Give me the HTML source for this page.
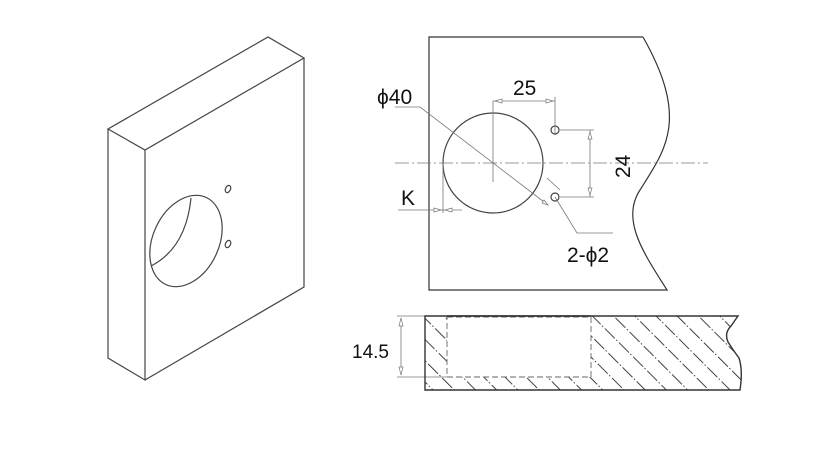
<!DOCTYPE html>
<html><head><style>body{margin:0;background:#fff}svg{display:block}text{font-family:"Liberation Sans",sans-serif;fill:#111}</style></head>
<body>
<svg width="823" height="466" viewBox="0 0 823 466" xmlns="http://www.w3.org/2000/svg">
<defs>
<pattern id="h" width="15" height="20" patternUnits="userSpaceOnUse" patternTransform="rotate(-45)">
<line x1="0" y1="0" x2="0" y2="20" stroke="#222" stroke-width="1.7" stroke-dasharray="14 2 1.5 2.5"/>
</pattern>
<clipPath id="sec"><path d="M425 316 H738 L731 326 Q724 333 728 342 Q733 350 739 358 Q743 370 740 390 H425 Z"/></clipPath>
</defs>
<g fill="none" stroke="#444" stroke-width="1.2">
<path d="M108 129 L268 37 L304 58 L145 150 Z"/>
<path d="M108 129 V358 L145 380 V150"/>
<path d="M145 380 L304 287 V58"/>
<ellipse cx="186" cy="241" rx="33" ry="48" transform="rotate(25 186 241)"/>
<path d="M191 198 Q186 248 151 266"/>
<ellipse cx="228" cy="189" rx="2.5" ry="3.8" transform="rotate(25 228 189)"/>
<ellipse cx="228" cy="244" rx="2.5" ry="3.8" transform="rotate(25 228 244)"/>
<path d="M643 37 H429 V290 H667 C645 255 620 220 640 190 C665 150 690 120 643 37" stroke="#333"/>
<circle cx="493" cy="163" r="50"/>
<circle cx="555" cy="130" r="4"/>
<circle cx="555" cy="197" r="4"/>
</g>
<g fill="none" stroke="#777" stroke-width="0.8">
<line x1="395" y1="163" x2="708" y2="163" stroke-dasharray="14 3 2 3"/>
<line x1="493" y1="101" x2="493" y2="182"/>
<line x1="493" y1="101" x2="555" y2="101"/>
<line x1="555" y1="97" x2="555" y2="135"/>
<line x1="560" y1="130" x2="594" y2="130"/>
<line x1="560" y1="197" x2="594" y2="197"/>
<line x1="590" y1="130" x2="590" y2="197"/>
<path d="M395 107 H420 L548 205"/>
<line x1="398" y1="210" x2="462" y2="210"/>
<line x1="443" y1="163" x2="443" y2="213"/>
<path d="M547 178 L560 190 M555 197 L577 233 H613"/>
<line x1="397" y1="316" x2="425" y2="316"/>
<line x1="397" y1="377" x2="447" y2="377"/>
<line x1="401" y1="318" x2="401" y2="375"/>
</g>
<g fill="#fff" stroke="#777" stroke-width="0.7">
<path d="M495 101 l7 -2 v4z"/><path d="M553 101 l-7 -2 v4z"/>
<path d="M590 132 l-2 7 h4z"/><path d="M590 195 l-2 -7 h4z"/>
<path d="M441 210 l-7 -2 v4z"/><path d="M445 210 l7 -2 v4z"/>
<path d="M401 318 l-2 8 h4z"/><path d="M401 375 l-2 -8 h4z"/>
<path d="M548 205 l-6 -2 l2 -3z"/>
</g>
<g clip-path="url(#sec)"><rect x="400" y="290" width="380" height="130" fill="url(#h)"/></g>
<rect x="447" y="317" width="144" height="60" fill="#fff" stroke="#666" stroke-width="0.9" stroke-dasharray="6 3"/>
<path d="M425 316 H738 L731 326 Q724 333 728 342 Q733 350 739 358 Q743 370 740 390 H425 Z" fill="none" stroke="#333" stroke-width="1.4"/>
<line x1="447" y1="316" x2="591" y2="316" stroke="#333" stroke-width="1.4"/>
<text x="377" y="104" font-size="21">ϕ40</text>
<text x="513" y="95" font-size="21">25</text>
<text x="401" y="205" font-size="21">K</text>
<text x="567" y="262" font-size="21">2-ϕ2</text>
<text x="0" y="0" font-size="21" transform="translate(630 178) rotate(-90)">24</text>
<text x="352" y="358" font-size="19">14.5</text>
</svg>
</body></html>
